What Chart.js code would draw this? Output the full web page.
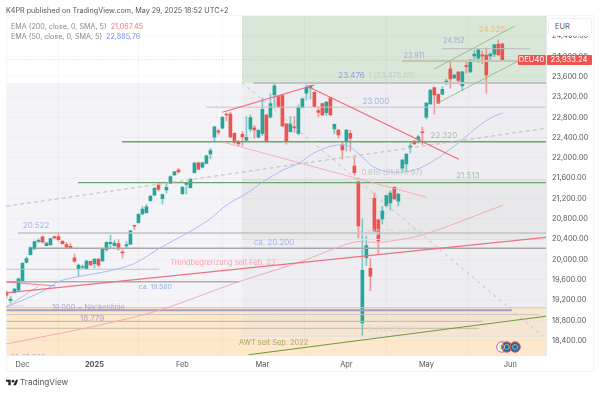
<!DOCTYPE html>
<html>
<head>
<meta charset="utf-8">
<script src="https://cdn.jsdelivr.net/npm/chart.js@4"></script>
<style>
  body { margin: 0; background: #fff; font-family: Inter, Roboto, sans-serif; }
  #wrap { position: relative; width: 600px; height: 393px; overflow: hidden; }
  canvas { position: absolute; left: 0; top: 0; }
  .abs { position: absolute; white-space: nowrap; }
  .tag { color: #fff; background: #ef5350; height: 9.5px; line-height: 9.5px; font-size: 7.6px; text-align: center; }
</style>
</head>
<body>
<div id="wrap">
  <canvas id="chart" width="600" height="393"></canvas>
  <div class="abs" style="left:6px;top:5px;font-size:7.2px;line-height:11px;color:#555">K4PR published on TradingView.com, May 29, 2025 18:52 UTC+2</div>
  <div class="abs" style="left:11px;top:22px;font-size:7.2px;line-height:10px;color:#888">EMA (200, close, 0, SMA, 5) <span style="color:#f7707c;margin-left:2px">21,067.45</span></div>
  <div class="abs" style="left:11px;top:32px;font-size:7.2px;line-height:10px;color:#888">EMA (50, close, 0, SMA, 5) <span style="color:#6f8dff;margin-left:2px">22,885.76</span></div>
  <div class="abs" style="left:548px;top:18px;width:42px;height:16px;background:#fff;border:1px solid #f0f0f0;border-radius:3px;font-size:7.4px;line-height:16px;color:#555;text-indent:6px">EUR</div>
  <div class="abs tag" style="left:517.5px;top:55px;width:28px;border-radius:1px">DEU40</div>
  <div class="abs tag" style="left:546.5px;top:55px;width:45px;border-radius:1px">23,933.24</div>
  <svg class="abs" style="left:6px;top:378.5px" width="12" height="7" viewBox="0 0 36 20">
    <path d="M14 2H0v6h7v10h7zM30 18h-8L30 2h6z" fill="#222"></path><circle cx="21" cy="6" r="4" fill="#222"></circle>
  </svg>
  <div class="abs" style="left:20px;top:377px;font-size:8.2px;line-height:11px;color:#555">TradingView</div>
</div>
<script>
// daily candles, left to right
const opens = [19358,19192,19348,19397,19572,19944,20096,20207,20355,20448,20272,20286,20451,20451,20358,20292,20260,20031,19807,19842,19819,19963,19917,20009,19969,20194,20311,20272,20311,20149,20266,20300,20667,20726,20896,20922,21159,21265,21466,21198,21368,21503,21665,21763,21296,21480,21413,21710,21906,21816,21894,22079,22407,22533,22586,22866,22866,22485,22309,22466,22348,22566,22592,22407,22485,22846,22801,23241,23208,23228,22670,22516,22612,22485,22990,23275,23378,23294,22931,23071,22892,23177,22572,22550,22256,22334,22485,21842,21528,18748,20037,19826,21206,20779,20798,21061,21114,21421,21147,21796,21881,22211,22334,22367,22511,22801,23065,23384,23247,23255,23482,23754,23577,23689,23418,23812,23695,24009,23963,24025,24025,24011,24045,24240,24246];
const highs = [19378,19280,19428,19632,19937,20045,20245,20360,20409,20468,20335,20420,20463,20524,20375,20339,20325,20110,19911,19892,19982,19972,20017,20017,20225,20350,20482,20370,20390,20194,20358,20573,20678,20903,21049,21080,21265,21420,21514,21295,21503,21648,21738,21796,21440,21518,21598,21913,21918,21918,22056,22191,22624,22566,22819,22886,22905,22496,22348,22517,22813,22846,22641,22559,23177,22859,23261,23490,23228,23247,22679,22813,22813,23045,23177,23437,23437,23307,23012,23082,23112,23192,22674,22564,22321,22564,22550,22023,21606,20798,20456,20017,21310,20793,21049,21270,21350,21435,21303,21973,22086,22301,22346,22452,22606,23092,23352,23402,23262,23404,23552,23910,23645,23705,23707,23897,23942,24115,24141,24096,24162,24064,24238,24325,24258];
const lows = [19241,19143,19338,19388,19562,19932,20085,20200,20325,20325,20265,20280,20410,20364,20300,20227,20221,19948,19656,19822,19807,19882,19832,19858,19957,20159,20227,20260,20182,20025,20227,20290,20588,20713,20883,20913,21150,21255,21343,21088,21304,21493,21653,21698,21276,21290,21402,21698,21763,21803,21883,21979,22315,22457,22574,22729,22401,22276,22236,22236,22328,22517,22387,22396,22438,22311,22782,22984,22989,22619,22269,22506,22505,22452,22979,23143,23157,22999,22813,22834,22833,22834,22471,22387,21979,22138,22138,21665,20423,18487,19877,19384,20521,20110,20700,21035,20975,21180,21055,21724,21730,22093,22266,22289,22256,22768,23052,22860,23067,23242,23437,23373,23565,23457,23325,23670,23683,23897,23877,23852,23275,23930,23995,24018,23925];
const closes = [19299,19221,19417,19617,19924,20017,20233,20350,20374,20339,20325,20409,20426,20390,20311,20241,20233,19964,19891,19862,19969,19891,20009,19891,20213,20339,20339,20325,20207,20129,20292,20563,20655,20890,20994,21035,21251,21402,21382,21276,21421,21632,21724,21724,21421,21503,21581,21900,21777,21906,22040,22144,22612,22508,22802,22846,22413,22309,22276,22413,22407,22794,22550,22544,22958,22321,23071,23418,23012,22631,22321,22670,22592,22997,23163,23392,23418,23012,22899,22847,23098,22846,22664,22452,22158,22550,22387,21710,20661,19787,20272,19670,20557,20364,20951,21257,21310,21192,21290,21959,22074,22236,22276,22418,22497,23079,23339,23241,23079,23353,23513,23558,23630,23525,23695,23799,23930,24045,24129,24011,23636,24045,24227,24031,23933.24];

// moving averages, as [candle index] + [price]
const ema200Days = [-0.075,23.4,38.4,56.7,73.4,86.7,92.9,98.4,105.1,124.1];
const ema200Vals = [18335,18709,19005,19523,19950,20338,20338,20390,20508,21067];
const ema50Days = [-0.075,3.4,9.2,13.4,18.4,25.2,31.7,38.4,45.2,50.2,55.2,60.2,64.2,69.2,73.4,76.7,81.7,85.4,88.4,91.7,95.2,100.2,104.2,108.4,113.4,118.4,121.7,124.2];
const ema50Vals = [19064,19176,19379,19576,19669,19767,19911,20226,20522,20758,21079,21310,21532,21763,21907,22092,22241,22241,22058,21828,21729,21729,21828,22025,22320,22649,22813,22885];

// horizontal levels
const levelVals = [23476,23000,22320,21513,20522,20220,19807,19562,19090,19050,19000,18914,18779,18644,24152,23911,23933,21571,20394,18489];
const levelFrom = [61.7,49.9,28.9,17.9,2.9,7,-0.075,-0.075,-0.075,-0.075,-0.075,-0.075,-0.075,-0.075,108.9,98.9,-0.075,58.9,58.9,58.9];
const levelTo = [134.925,134.925,134.925,134.925,134.925,134.925,38.2,58.2,4.2,134.925,126.4,133.2,119.2,118.2,130.9,134.925,134.925,134.925,134.925,134.925];

// sloped drawings
const trendFromDay = [54,75.1,54,-0.075,-0.075,-0.075,-0.075,58.9,107,108,60.5];
const trendFromVal = [22899,23418,22314,19340,19556,19064,21048,23483,23752,23089,18124];
const trendToDay = [77,113.1,105.1,134.925,12.2,8,134.925,134.1,127.2,128,134.925];
const trendToVal = [23437,21974,21225,20437,19478,19472,22584,18487,24600,23910,18881];

const noteTexts = ["23.476","1 (23,476.00)","23.000","22.320","21.513","0.618 (21,570.97)","24.325","24.152","23.911","20.522","ca. 20.200","Trendbegrenzung seit Feb. 23`","ca. 19.560","19.000 = Nackenlinie","18.779","AWT seit Sep. 2022","0.382 (20,394.03)","0 (18,489.00)","S1: 18.000"];
const noteDays = [86.3,96.4,92.4,109.4,115.4,96.4,121.4,111.9,101.9,7.4,66.9,54.4,37.2,20.5,21.4,66.8,96.4,96.4,5.4];
const noteVals = [23615,23615,23102,22438,21645,21704,24521,24298,24009,20660,20325,19944,19464,19050,18833,18355,20522,18617,18070];

const eventDays = [123.9,125.1,127.2];
const eventVals = [18276,18276,18276];

const monthDays = [4,22,44,64,85,105,126];
const monthLabels = ["Dec","2025","Feb","Mar","Apr","May","Jun"];
const priceTicks = [18400,18800,19200,19600,20000,20400,20800,21200,21600,22000,22400,22800,23200,23600,24000,24400];

const xMin = -0.075, xMax = 134.925, yMin = 18118, yMax = 24796;
const green = "#26a69a", red = "#ef5350";

const levelStyles = [
  ["#c4c4c8",2],["#c6c6c8",1],["#6aa56a",1.4],["#6aa56a",1.1],["#c2c2c2",1.4],["#a8a8a8",1.4],["#c4c4c4",1],["#aeaeae",1.4],["#d6d6d6",1],["#f6c08c",1],
  ["#a0a0d2",1.8],["#cfc9b4",1],["#c4bbaa",1],["#c4bbaa",1],["#bcbcbc",1],["#c6c6b2",2],["rgba(240,150,90,0.55)",1,[1,2]],["#dedee0",2],["#dfdfe3",1],["#dfdfe3",1]
];
const trendStyles = [
  ["#f2677a",1.2],["#f2677a",1.2],["#f5a8b2",0.9],["#ee7083",1.2],["#ee7083",0.9],["#a8c8a8",0.9],["#bcbcbc",1,[4,3]],["#c0c0c0",1,[3,4]],["#8fb88f",0.9],["#8fb88f",0.9],["#6a9a3c",1.1]
];
const noteStyles = [
  ["#8ea3d8",8],["rgba(130,130,130,0.25)",7.6],["#a4b4e4",8],["#a5bfa5",8],["#a5bfa5",8],["#c6c6c6",7.6],["#f0bc80",8],["#97abdc",7],["#97abdc",7],["#a7b6e6",8],
  ["#a7b6e6",8],["#f3a6b0",7.4],["#97abdc",6.8],["#a4a4d6",7.4],["#a4a4d6",8],["#a6a668",7.4],["#d8d8dc",7.6],["#dfd5c9",7.6],["#a4a4d6",7.4]
];

const lineSet = (xs, ys, color, width, dash, tension) => ({
  type: "line",
  data: xs.map((x, i) => ({ x, y: ys[i] })),
  borderColor: color,
  borderWidth: width,
  borderDash: dash || [],
  pointRadius: 0,
  tension: tension || 0,
  order: 0,
});

const datasets = [];

// lines first in the list end up on top within the same order
trendFromDay.forEach((d, i) => {
  const s = trendStyles[i];
  datasets.push(lineSet([d, trendToDay[i]], [trendFromVal[i], trendToVal[i]], s[0], s[1], s[2]));
});
datasets.push(lineSet(ema200Days, ema200Vals, "#f2aab5", 1, null, 0.3));
datasets.push(lineSet(ema50Days, ema50Vals, "#a9b9f4", 1, null, 0.3));
levelVals.forEach((v, i) => {
  const s = levelStyles[i];
  datasets.push(lineSet([levelFrom[i], levelTo[i]], [v, v], s[0], s[1], s[2]));
});

// event badges
datasets.push({
  type: "line", showLine: false, order: 0,
  data: eventDays.map((x, i) => ({ x, y: eventVals[i] })),
  pointRadius: 2.5,
  pointBackgroundColor: "transparent",
  pointBorderColor: "#d8c860",
  pointBorderWidth: 0.8,
});
datasets.push({
  type: "line", showLine: false, order: 0,
  data: eventDays.map((x, i) => ({ x, y: eventVals[i] })),
  pointRadius: 5.2,
  pointBackgroundColor: ["#fff", "#2368a8", "#2368a8"],
  pointBorderColor: ["#b45cc8", "#ef5350", "#ef5350"],
  pointBorderWidth: 1,
});

// candles: bodies over wicks
const isUp = opens.map((o, i) => closes[i] >= o);
datasets.push({
  type: "bar", order: 1, grouped: false,
  data: opens.map((o, i) => ({ x: i, y: [o, closes[i]] })),
  backgroundColor: isUp.map((u) => (u ? green : red)),
  barThickness: 3, minBarLength: 1, borderWidth: 0, borderSkipped: false,
});
datasets.push({
  type: "bar", order: 2, grouped: false,
  data: highs.map((h, i) => ({ x: i, y: [lows[i], h] })),
  backgroundColor: isUp.map((u) => (u ? "rgba(38,166,154,0.55)" : "rgba(239,83,80,0.55)")),
  barThickness: 1, borderWidth: 0, borderSkipped: false,
});

/* background zones behind the grid */
const zones = {
  id: "zones",
  beforeDraw(chart) {
    const { ctx, scales: { x, y }, chartArea: a } = chart;
    const box = (k1, k2, p1, p2, color) => {
      ctx.fillStyle = color;
      ctx.fillRect(x.getPixelForValue(k1), y.getPixelForValue(p1), x.getPixelForValue(k2) - x.getPixelForValue(k1), y.getPixelForValue(p2) - y.getPixelForValue(p1));
    };
    ctx.save();
    box(xMin, xMax, 23476, 19050, "#f4f4f8");
    box(58.9, xMax, yMax, 23476, "#d9e7d9");
    box(58.9, xMax, 23476, 21571, "#eeeef2");
    box(58.9, xMax, 21571, 20394, "#e8e8ea");
    box(58.9, xMax, 20394, 19050, "#eeeef2");
    box(xMin, xMax, 19050, yMin, "#fde8cb");
    box(58.9, xMax, 19050, 18489, "#f5e6d4");
    // frame around the panes
    ctx.strokeStyle = "#f4f4f4";
    ctx.lineWidth = 1;
    ctx.strokeRect(a.left + 0.5, a.top - 0.5, 587, 356);
    ctx.restore();
  },
};

/* text notes on the chart */
const notes = {
  id: "notes",
  afterDatasetsDraw(chart) {
    const { ctx, scales: { x, y }, chartArea: a } = chart;
    ctx.save();
    ctx.beginPath();
    ctx.rect(a.left, a.top, a.right - a.left, a.bottom - a.top);
    ctx.clip();
    ctx.textAlign = "center";
    ctx.textBaseline = "middle";
    noteTexts.forEach((t, i) => {
      ctx.fillStyle = noteStyles[i][0];
      ctx.font = noteStyles[i][1] + "px Inter, Roboto, sans-serif";
      ctx.fillText(t, x.getPixelForValue(noteDays[i]), y.getPixelForValue(noteVals[i]));
    });
    ctx.restore();
  },
};

new Chart(document.getElementById("chart"), {
  type: "bar",
  data: { datasets },
  plugins: [zones, notes],
  options: {
    responsive: false,
    animation: false,
    layout: { padding: { left: 6, top: 16, right: 7, bottom: 21 } },
    plugins: { legend: { display: false }, tooltip: { enabled: false } },
    scales: {
      x: {
        type: "linear",
        min: xMin,
        max: xMax,
        offset: false,
        afterBuildTicks: (axis) => { axis.ticks = monthDays.map((value) => ({ value })); },
        afterFit: (axis) => { axis.height = 17; },
        grid: { color: "rgba(0,0,0,0.03)", drawTicks: false },
        border: { color: "#e8e8e8" },
        ticks: {
          autoSkip: false, maxRotation: 0, padding: 5, color: "#555",
          callback: (v) => monthLabels[monthDays.indexOf(v)],
          font: (c) => ({ family: "Inter, Roboto, sans-serif", size: 7.4, weight: c.tick && c.tick.label === "2025" ? "bold" : "normal" }),
        },
      },
      y: {
        position: "right",
        min: yMin,
        max: yMax,
        afterBuildTicks: (axis) => { axis.ticks = priceTicks.map((value) => ({ value })); },
        afterFit: (axis) => { axis.width = 47; },
        grid: { color: "rgba(0,0,0,0.025)", drawTicks: false },
        border: { color: "#e8e8e8" },
        ticks: {
          autoSkip: false, padding: 6, color: "#555",
          font: { family: "Inter, Roboto, sans-serif", size: 7.4 },
          callback: (v) => v.toLocaleString("en-US", { minimumFractionDigits: 2 }),
        },
      },
    },
  },
});
</script>
</body>
</html>
